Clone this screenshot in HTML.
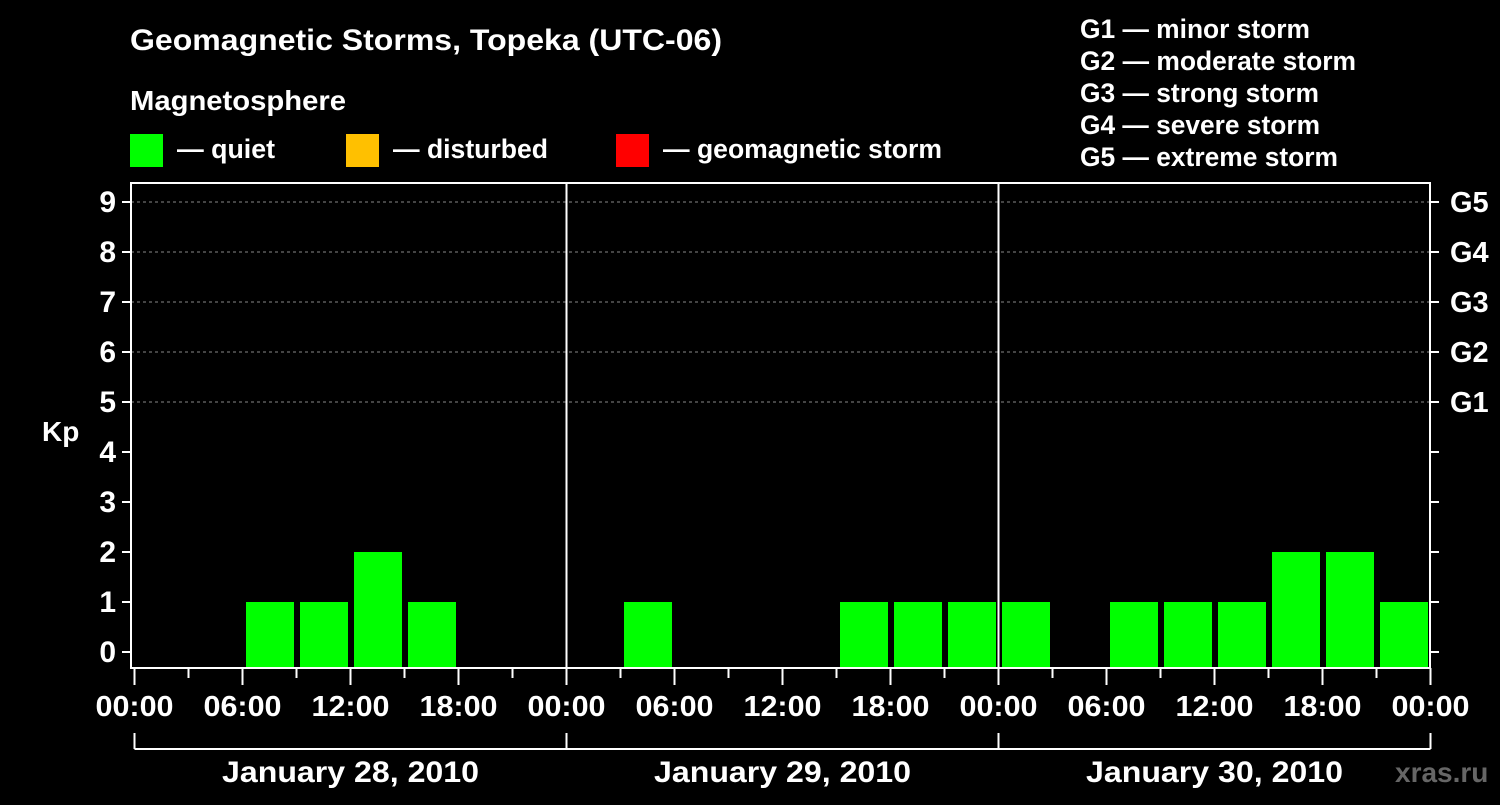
<!DOCTYPE html>
<html><head><meta charset="utf-8"><style>
body{margin:0;background:#000;width:1500px;height:800px;overflow:hidden}
svg text{font-family:"Liberation Sans",Arial,sans-serif;font-weight:bold;fill:#fff}
</style></head><body>
<svg id="c" width="1500" height="800">
<text x="130" y="50" font-size="30" textLength="592" lengthAdjust="spacingAndGlyphs">Geomagnetic Storms, Topeka (UTC-06)</text>
<text x="130" y="110" font-size="28" textLength="216" lengthAdjust="spacingAndGlyphs">Magnetosphere</text>
<rect x="130" y="134" width="33" height="33" fill="#00ff00"/>
<text x="177" y="158" font-size="27" textLength="98" lengthAdjust="spacingAndGlyphs">— quiet</text>
<rect x="346" y="134" width="33" height="33" fill="#ffc000"/>
<text x="393" y="158" font-size="27" textLength="155" lengthAdjust="spacingAndGlyphs">— disturbed</text>
<rect x="616" y="134" width="33" height="33" fill="#ff0000"/>
<text x="663" y="158" font-size="27" textLength="279" lengthAdjust="spacingAndGlyphs">— geomagnetic storm</text>
<g font-size="27">
<text x="1080" y="38" textLength="230" lengthAdjust="spacingAndGlyphs">G1 — minor storm</text>
<text x="1080" y="70" textLength="276" lengthAdjust="spacingAndGlyphs">G2 — moderate storm</text>
<text x="1080" y="102" textLength="239" lengthAdjust="spacingAndGlyphs">G3 — strong storm</text>
<text x="1080" y="134" textLength="240" lengthAdjust="spacingAndGlyphs">G4 — severe storm</text>
<text x="1080" y="166" textLength="258" lengthAdjust="spacingAndGlyphs">G5 — extreme storm</text>
</g>
<text x="42" y="441" font-size="28">Kp</text>
<text x="1395" y="782" font-size="28" style="fill:#666">xras.ru</text>
<g id="plot"></g>
</svg>
<script>
const days=["January 28, 2010","January 29, 2010","January 30, 2010"];
const kp=[0,0,1,1,2,1,0,0, 0,1,0,0,0,1,1,1, 1,0,1,1,1,2,2,1];
const yTicks=[0,1,2,3,4,5,6,7,8,9];
const gLabels=["G1","G2","G3","G4","G5"];
const hourLabels=["00:00","06:00","12:00","18:00"];
const NS="http://www.w3.org/2000/svg";
const g=document.getElementById('plot');
const x0=134.5,dayW=432,L=131,R=1430,T=183,B=668;
const X=h=>x0+h/24*dayW;
const Y=v=>652-v*50;
function el(t,a){const e=document.createElementNS(NS,t);for(const k in a)e.setAttribute(k,a[k]);g.appendChild(e);return e;}
function txt(x,y,s,anchor,size){const e=el('text',{x:x,y:y,'text-anchor':anchor,'font-size':size});e.textContent=s;return e;}
yTicks.forEach(v=>{if(v>=5){const l=el('line',{x1:L,x2:R,y1:Y(v),y2:Y(v),stroke:'#888','stroke-dasharray':'3,3','stroke-width':1});

}});
kp.forEach((v,i)=>{if(v<=0)return;const r=el('rect',{x:X(i*3)+3.5,y:Y(v),width:48,height:B-Y(v),fill:v>=5?'#ff0000':v>=4?'#ffc000':'#00ff00'});

});
for(let d=1;d<days.length;d++){const l=el('line',{x1:X(d*24),x2:X(d*24),y1:T,y2:B,stroke:'#fff','stroke-width':2});

}
const f=el('rect',{x:L,y:T,width:R-L,height:B-T,fill:'none',stroke:'#fff','stroke-width':2});


yTicks.forEach(v=>{el('line',{x1:L-9,x2:L,y1:Y(v),y2:Y(v),stroke:'#fff','stroke-width':2});
el('line',{x1:R,x2:R+9,y1:Y(v),y2:Y(v),stroke:'#fff','stroke-width':2});
const t=txt(116,Y(v)+10,String(v),'end',30);

});
gLabels.forEach((s,i)=>{const t=txt(1450,Y(5+i)+10,s,'start',29);

});
for(let h=0;h<=24*days.length;h+=3){const major=h%6==0;el('line',{x1:X(h),x2:X(h),y1:B,y2:major?685:678,stroke:'#fff','stroke-width':2});
if(major){const t=txt(X(h),716,hourLabels[(h%24)/6],'middle',29);
t.setAttribute('textLength','78');
t.setAttribute('lengthAdjust','spacingAndGlyphs');

}}
el('line',{x1:X(0),x2:X(24*days.length),y1:749,y2:749,stroke:'#fff','stroke-width':2});
for(let d=0;d<=days.length;d++)el('line',{x1:X(d*24),x2:X(d*24),y1:733,y2:749,stroke:'#fff','stroke-width':2});
days.forEach((s,d)=>{const t=txt(X(d*24+12),782,s,'middle',30);
t.setAttribute('textLength','257');
t.setAttribute('lengthAdjust','spacingAndGlyphs');

});
</script>
</body></html>
